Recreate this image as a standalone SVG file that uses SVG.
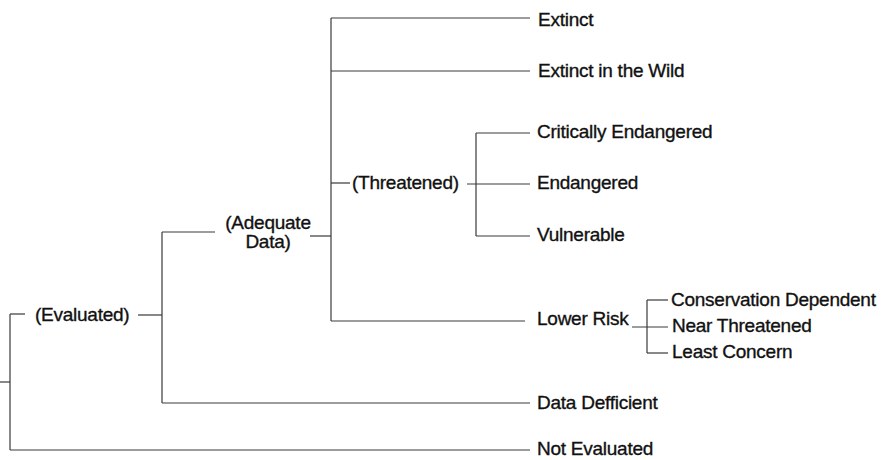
<svg xmlns="http://www.w3.org/2000/svg" width="883" height="460" viewBox="0 0 883 460">
<style>
.c line{stroke:#3a3a3a;stroke-width:1.2;fill:none}
text{font-family:"Liberation Sans",Arial,sans-serif;font-size:19px;fill:#111;stroke:#111;stroke-width:0.35px;letter-spacing:-0.25px}
</style>
<rect width="883" height="460" fill="#fff"/>
<g class="c" id="connectors">
<line x1="0" y1="382" x2="10" y2="382"/>
<line x1="10" y1="314" x2="10" y2="450"/>
<line x1="10" y1="314" x2="25" y2="314"/>
<line x1="10" y1="450" x2="530" y2="450"/>
<line x1="138" y1="315" x2="162" y2="315"/>
<line x1="162" y1="232" x2="162" y2="403"/>
<line x1="162" y1="232" x2="215" y2="232"/>
<line x1="162" y1="403" x2="530" y2="403"/>
<line x1="310" y1="236" x2="331" y2="236"/>
<line x1="331" y1="18" x2="331" y2="321"/>
<line x1="331" y1="18" x2="530" y2="18"/>
<line x1="331" y1="71" x2="530" y2="71"/>
<line x1="331" y1="183" x2="350" y2="183"/>
<line x1="331" y1="321" x2="525" y2="321"/>
<line x1="467" y1="184" x2="530" y2="184"/>
<line x1="476" y1="133" x2="476" y2="236"/>
<line x1="476" y1="133" x2="530" y2="133"/>
<line x1="476" y1="236" x2="530" y2="236"/>
<line x1="632" y1="327" x2="668" y2="327"/>
<line x1="647" y1="300" x2="647" y2="353"/>
<line x1="647" y1="300" x2="668" y2="300"/>
<line x1="647" y1="353" x2="668" y2="353"/>
</g>
<g id="evaluated"><text x="35" y="321">(Evaluated)</text></g>
<g id="adequate"><text x="268" y="229" text-anchor="middle">(Adequate</text><text x="268" y="248" text-anchor="middle">Data)</text></g>
<g id="threatened"><text x="352" y="189">(Threatened)</text></g>
<g id="extinct"><text x="538" y="26">Extinct</text></g>
<g id="extinct-wild"><text x="538" y="77">Extinct in the Wild</text></g>
<g id="critically"><text x="537" y="138">Critically Endangered</text></g>
<g id="endangered"><text x="537" y="189">Endangered</text></g>
<g id="vulnerable"><text x="537" y="241">Vulnerable</text></g>
<g id="lower-risk"><text x="537" y="325">Lower Risk</text></g>
<g id="conservation"><text x="671" y="306">Conservation Dependent</text></g>
<g id="near"><text x="672" y="332">Near Threatened</text></g>
<g id="least"><text x="672" y="358">Least Concern</text></g>
<g id="data-deficient"><text x="537" y="409">Data Defficient</text></g>
<g id="not-evaluated"><text x="537" y="455">Not Evaluated</text></g>
</svg>
